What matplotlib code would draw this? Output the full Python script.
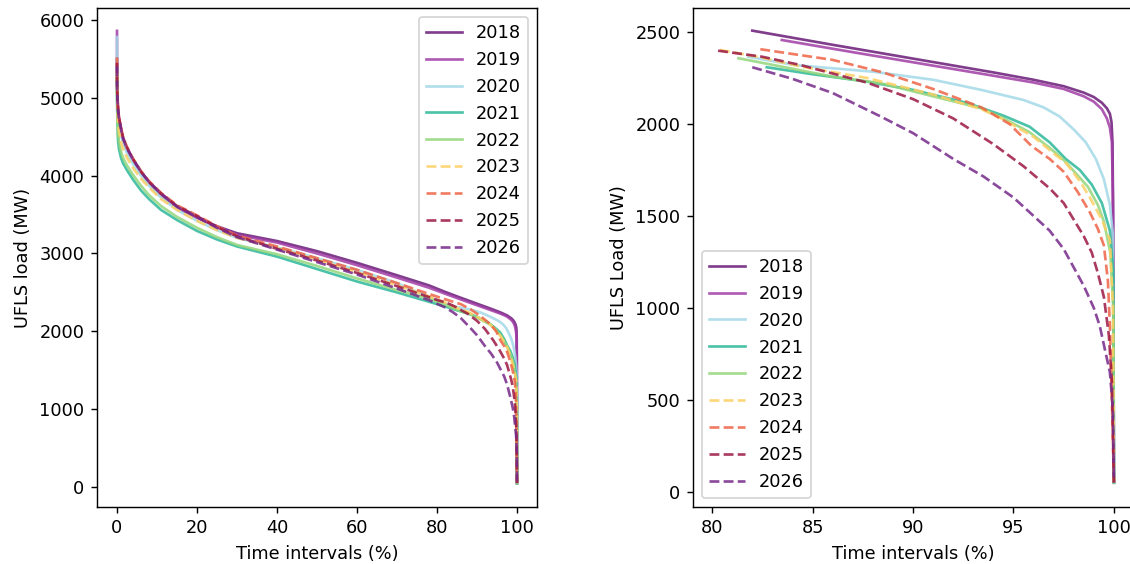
import matplotlib.pyplot as plt

# UFLS load duration curves, 2018-2026
years = [2018, 2019, 2020, 2021, 2022, 2023, 2024, 2025, 2026]
colors = ['#6a1b78', '#a03ca5', '#a3d9e8', '#2cb89a', '#93d67a',
          '#fdcf63', '#ee6446', '#9b1743', '#76298a']
styles = ['-', '-', '-', '-', '-', '--', '--', '--', '--']

# first part of each curve (shared x points, %)
x_head = [0, 0.02, 0.1, 0.25, 0.5, 1, 1.5, 2.5, 4, 6, 8, 11, 15, 20, 25, 30, 40, 50, 60, 70, 78]
head_load = [
    [5500, 5150, 4950, 4820, 4710, 4580, 4460, 4330, 4200, 4040, 3910, 3750, 3590, 3460, 3350, 3260, 3160, 3030, 2880, 2720, 2590],
    [5860, 5300, 5050, 4860, 4740, 4600, 4480, 4350, 4210, 4050, 3920, 3760, 3600, 3460, 3340, 3240, 3140, 3000, 2850, 2690, 2560],
    [5780, 5250, 5000, 4760, 4650, 4520, 4420, 4290, 4150, 4000, 3870, 3720, 3560, 3420, 3300, 3200, 3080, 2940, 2790, 2620, 2440],
    [5300, 4950, 4700, 4450, 4340, 4230, 4160, 4070, 3950, 3810, 3700, 3560, 3430, 3290, 3180, 3090, 2960, 2800, 2640, 2500, 2380],
    [5250, 5000, 4780, 4550, 4430, 4310, 4230, 4130, 4010, 3870, 3750, 3610, 3470, 3330, 3210, 3110, 2990, 2840, 2680, 2530, 2420],
    [5350, 5100, 4900, 4680, 4560, 4430, 4340, 4230, 4100, 3960, 3850, 3700, 3560, 3420, 3300, 3200, 3070, 2920, 2760, 2590, 2450],
    [5520, 5250, 5050, 4880, 4750, 4620, 4500, 4370, 4220, 4060, 3930, 3780, 3620, 3490, 3350, 3230, 3090, 2940, 2790, 2620, 2480],
    [5450, 5200, 5000, 4860, 4740, 4610, 4490, 4360, 4210, 4050, 3920, 3770, 3610, 3480, 3340, 3220, 3060, 2910, 2750, 2580, 2440],
    [5400, 5150, 4980, 4840, 4730, 4600, 4480, 4350, 4210, 4050, 3920, 3770, 3600, 3470, 3330, 3210, 3050, 2890, 2730, 2550, 2400],
]

# last part of each curve (this is what the zoomed panel shows)
tail_x = [
    [82.0, 86, 90, 94, 96, 97.5, 98.5, 99.0, 99.4, 99.65, 99.8, 99.88, 99.93, 99.96, 99.98, 100],
    [83.47, 87, 90, 94, 96, 97.5, 98.5, 99.0, 99.4, 99.65, 99.8, 99.9, 99.95, 99.98, 100],
    [81.8, 84.1, 88.0, 91, 93.4, 95.5, 96.5, 97.3, 98.0, 98.6, 99.1, 99.5, 99.8, 99.95, 100],
    [82.72, 85, 87.7, 90, 92.7, 94.5, 95.8, 96.8, 97.6, 98.3, 98.9, 99.4, 99.8, 99.97, 100],
    [81.31, 84, 86.0, 88.4, 91.0, 93.4, 94.5, 95.8, 96.8, 97.5, 98.2, 98.7, 99.2, 99.5, 99.82, 99.97, 100],
    [80.4, 82.5, 84.4, 87.7, 91.0, 93.4, 94.4, 96.0, 97.0, 97.6, 98.3, 98.8, 99.4, 99.8, 99.95, 100],
    [82.4, 86.0, 88.5, 91, 93.4, 94.8, 95.9, 96.8, 97.5, 98.2, 98.8, 99.2, 99.5, 99.7, 99.8, 99.9, 100],
    [80.3, 82.5, 84.4, 87.7, 90, 92, 94, 95.5, 96.8, 97.5, 98.0, 98.5, 98.9, 99.2, 99.5, 99.75, 99.9, 100],
    [82.0, 84, 86.0, 88.4, 90, 92, 93.5, 95.0, 96.0, 96.8, 97.5, 98.0, 98.5, 99.0, 99.3, 99.5, 99.8, 99.95, 100],
]
tail_load = [
    [2507, 2430, 2355, 2280, 2240, 2205, 2170, 2146, 2115, 2085, 2055, 2010, 1900, 1500, 800, 50],
    [2456, 2390, 2335, 2262, 2225, 2190, 2150, 2121, 2080, 2030, 1980, 1900, 1600, 1000, 50],
    [2365, 2320, 2284, 2240, 2185, 2130, 2090, 2040, 1970, 1900, 1810, 1700, 1560, 1400, 50],
    [2308, 2270, 2230, 2185, 2114, 2045, 1985, 1900, 1810, 1750, 1670, 1570, 1420, 1200, 50],
    [2357, 2300, 2257, 2221, 2150, 2085, 2030, 1955, 1870, 1804, 1720, 1659, 1560, 1470, 1300, 1000, 50],
    [2402, 2360, 2312, 2250, 2160, 2080, 2030, 1930, 1840, 1790, 1690, 1600, 1480, 1370, 1000, 50],
    [2406, 2348, 2280, 2190, 2090, 2000, 1880, 1810, 1740, 1630, 1520, 1430, 1340, 1150, 900, 500, 50],
    [2398, 2365, 2320, 2225, 2135, 2030, 1890, 1770, 1650, 1570, 1480, 1390, 1300, 1190, 1060, 850, 600, 50],
    [2308, 2245, 2168, 2040, 1950, 1810, 1715, 1600, 1500, 1420, 1320, 1220, 1120, 1000, 900, 800, 650, 450, 50],
]

W, H = 1130, 564
DPI = 128
fig = plt.figure(figsize=(W / DPI, H / DPI), dpi=DPI)
ax1 = fig.add_axes([97 / W, 57 / H, 440 / W, 499 / H])
ax2 = fig.add_axes([693 / W, 57 / H, 441 / W, 499 / H])

for i, yr in enumerate(years):
    ax1.plot(x_head + tail_x[i], head_load[i] + tail_load[i], styles[i],
             color=colors[i], lw=1.5, alpha=0.85, label=str(yr))
    ax2.plot(tail_x[i], tail_load[i], styles[i],
             color=colors[i], lw=1.5, alpha=0.85, label=str(yr))

ax1.set_xlim(-5, 105)
ax1.set_ylim(-257, 6154)
ax1.set_xlabel('Time intervals (%)')
ax1.set_ylabel('UFLS load (MW)')
ax1.legend(loc='upper right')

ax2.set_xlim(79.05, 101.0)
ax2.set_ylim(-82, 2630)
ax2.set_xlabel('Time intervals (%)')
ax2.set_ylabel('UFLS Load (MW)')
ax2.legend(loc='lower left')

fig.savefig('out.png', dpi=DPI)
